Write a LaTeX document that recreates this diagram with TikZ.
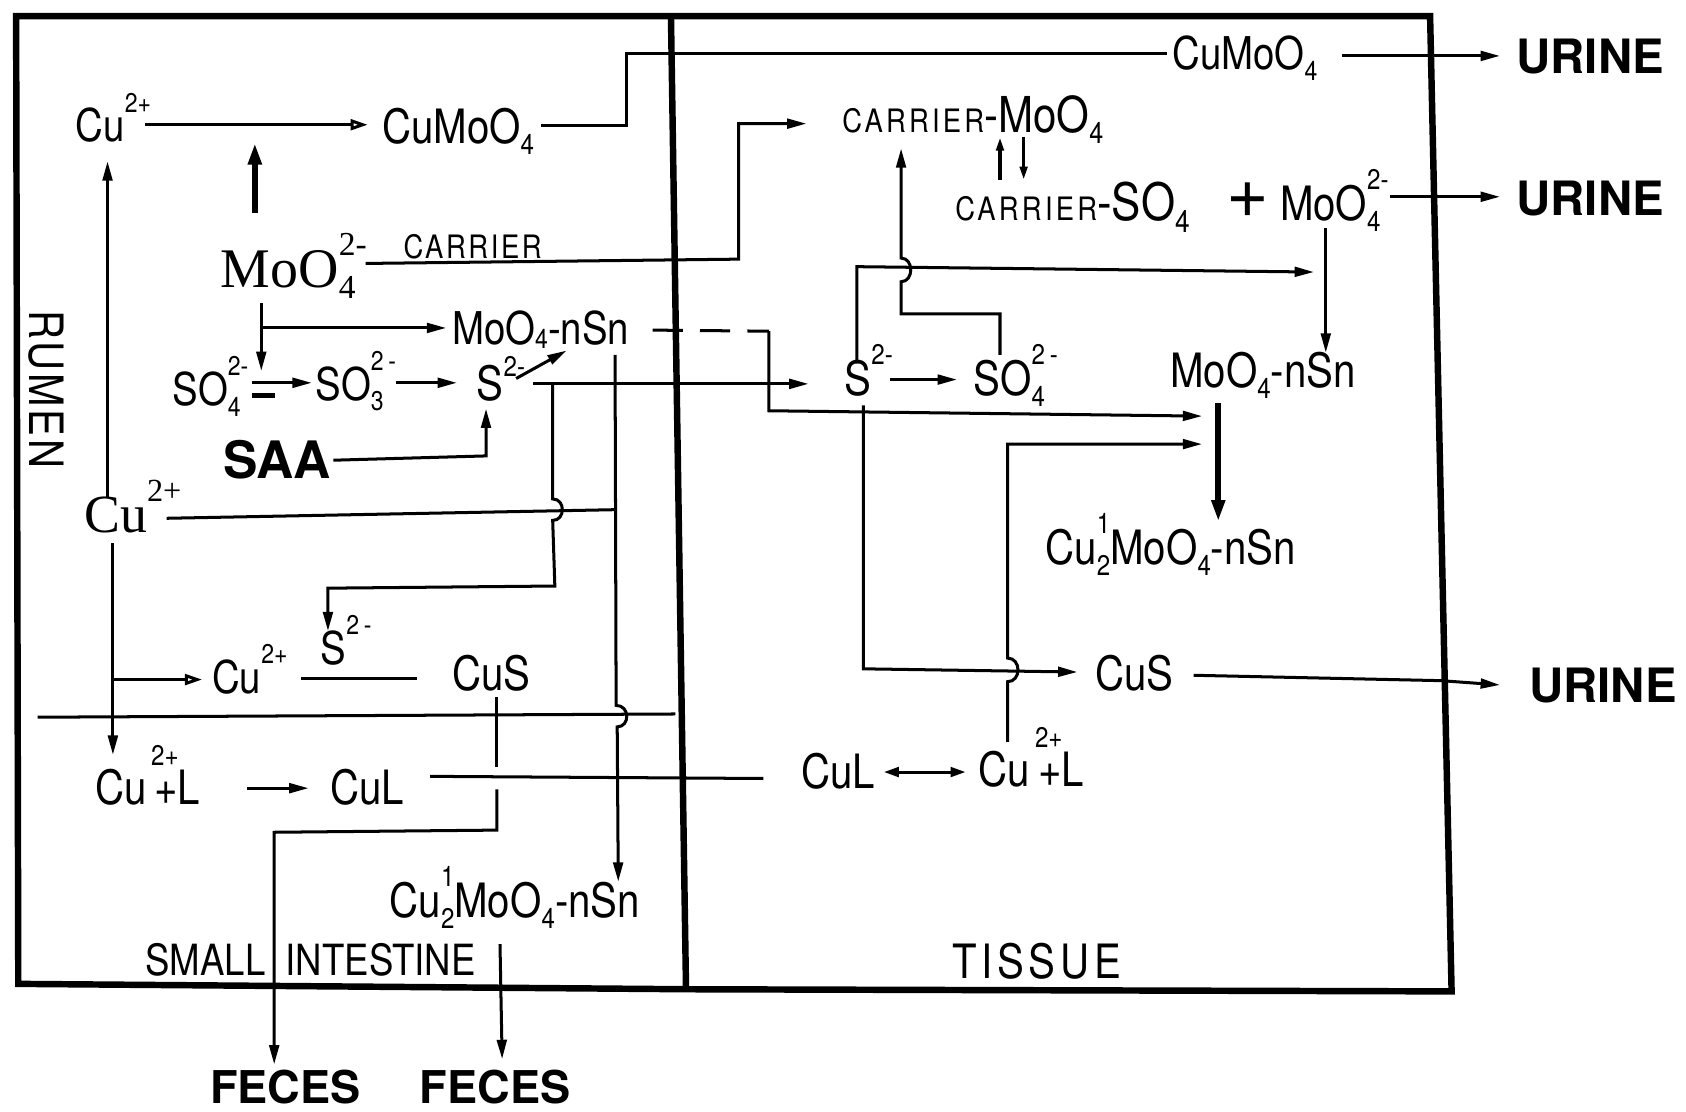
\documentclass[tikz,border=0pt]{standalone}
\usepackage{fontspec}
\usepackage{graphicx}
\setmainfont{TeX Gyre Heros}
\newfontfamily\cnd[FakeStretch=0.85]{TeX Gyre Heros}
\newfontfamily\srf{Liberation Serif}
\usetikzlibrary{arrows.meta}
\newcommand\sps[1]{\raisebox{1.25ex}{\scalebox{0.6}{#1}}}
\newcommand\lsps[1]{\raisebox{0.95ex}{\scalebox{0.6}{#1}}}
\newcommand\hsps[1]{\raisebox{1.55ex}{\scalebox{0.6}{#1}}}
\newcommand\sbs[1]{\raisebox{-0.45ex}{\scalebox{0.6}{#1}}}
\newcommand\ssbs[1]{\raisebox{-0.2ex}{\scalebox{0.6}{#1}}}
\newcommand\sbsp[2]{\rlap{\sbs{#1}}\sps{#2}}
\newcommand\smc[1]{{\fontsize{15}{15}\selectfont\addfontfeatures{LetterSpace=10}#1}}
\begin{document}
\begin{tikzpicture}[x=0.5pt,y=-0.5pt,
  tx/.style={anchor=base west,inner sep=0pt,font=\cnd\fontsize{#1}{#1}\selectfont},
  tb/.style={anchor=base west,inner sep=0pt,font=\bfseries\fontsize{#1}{#1}\selectfont},
  ts/.style={anchor=base west,inner sep=0pt,font=\srf\fontsize{#1}{#1}\selectfont},
  ln/.style={line width=1.4pt},
  ar/.style={ln,-{Triangle[length=9pt,width=4.5pt]}},
  oar/.style={ln,-{Triangle[open,length=8pt,width=5pt]}},
  har/.style={line width=2.6pt,-{Triangle[length=10pt,width=6pt]}},
  bordr/.style={line width=3pt},
]
\useasboundingbox (0,0) rectangle (1568,1034);
% frames
\draw[bordr] (15,15) -- (1330,15) -- (1350,922) -- (640,920) -- (17,915) -- cycle;
\draw[bordr] (624,15) -- (638,920);
\draw[ln] (35,667) -- (628,664);

% ---------- RUMEN nodes
\node[tx=21] (rCu1) at (70,132) {Cu\sps{2+}};
\node[tx=22] (rCuMoO4) at (355,133) {CuMoO\sbs{4}};
\node[ts=26] (rMoO4) at (205,267) {MoO\sbsp{4}{2-}};
\node[anchor=base west,inner sep=0pt,font=\cnd\fontsize{15}{15}\selectfont\addfontfeatures{LetterSpace=8}] (rCarrier) at (375,240) {CARRIER};
\node[tx=21] (rMoS) at (420,320) {MoO\ssbs{4}-nSn};
\node[tx=21] (rSO4) at (160,377) {SO\sbsp{4}{2-}};
\node[tx=21] (rSO3) at (293,372) {SO\sbsp{3}{2\,-}};
\node[tx=22] (rS) at (443,372) {S\lsps{2-}};
\node[tb=24] (rSAA) at (207,445) {SAA};
\node[ts=25] (rCu2) at (78,495) {Cu\sps{2+}};
\node[tx=21] (rS2) at (298,618) {S\sps{2\,-}};
\node[tx=21] (rCu3) at (197,645) {Cu\sps{2+}};
\node[tx=22] (rCuS) at (420,642) {CuS};
\node[tx=22] (rCuL2) at (88,748) {Cu\rlap{\hsps{\,2+}}\,+L};
\node[tx=22] (rCuL) at (307,748) {CuL};
\node[tx=22] (rCuHalf) at (362,853) {Cu\sbsp{2}{1}MoO\sbs{4}-nSn};
\node[tx=20] (rSI) at (135,907) {SMALL \ INTESTINE};
\node[tb=21] (rFec1) at (195,1026) {FECES};
\node[tb=21] (rFec2) at (390,1026) {FECES};
\node[inner sep=0pt,rotate=-90,font=\cnd\fontsize{22}{22}\selectfont\addfontfeatures{LetterSpace=6}] (rRumen) at (43,362) {RUMEN};

% ---------- TISSUE nodes
\node[tx=21] (tCuMoO4) at (1090,65) {CuMoO\sbs{4}};
\node[tb=22] (tUr1) at (1410,68) {URINE};
\node[tb=22] (tUr2) at (1410,200) {URINE};
\node[tb=22] (tUr3) at (1422,653) {URINE};
\node[tx=23] (tCarMo) at (783,123) {\smc{CARRIER}-MoO\sbs{4}};
\node[tx=24] (tCarSO) at (888,205) {\smc{CARRIER}-SO\sbs{4}};
\node[anchor=base west,inner sep=0pt,font=\fontsize{34}{34}\selectfont] (tPlus) at (1140,202) {+};
\node[tx=22] (tMoO4) at (1190,205) {MoO\sbsp{4}{2-}};
\node[tx=22] (tS) at (785,368) {S\sps{2-}};
\node[tx=22] (tSO4) at (905,368) {SO\sbsp{4}{2\,-}};
\node[tx=22] (tMoS) at (1088,360) {MoO\sbs{4}-nSn};
\node[tx=22] (tCuHalf) at (972,525) {Cu\sbsp{2}{1}MoO\sbs{4}-nSn};
\node[tx=22] (tCuS) at (1018,642) {CuS};
\node[tx=22] (tCuL) at (745,733) {CuL};
\node[tx=22] (tCuL2) at (910,731) {Cu\rlap{\hsps{\,2+}}\,+L};
\node[anchor=base west,inner sep=0pt,font=\cnd\fontsize{22}{22}\selectfont\addfontfeatures{LetterSpace=10}] (tTissue) at (885,910) {TISSUE};

% ---------- coordinates
\coordinate (c1a) at (135,116); \coordinate (c1b) at (342,116);
\coordinate (c2a) at (237,198); \coordinate (c2b) at (237,133);
\coordinate (c3a) at (503,117); \coordinate (c3b) at (1085,50);
\coordinate (c4a) at (1248,52); \coordinate (c4b) at (1395,52);
\coordinate (c5a) at (340,245); \coordinate (c5b) at (750,115);
\coordinate (c6a) at (243,282); \coordinate (c6b) at (243,345);
\coordinate (c6c) at (243,305); \coordinate (c6d) at (415,305);
\coordinate (c7a) at (234,356); \coordinate (c7b) at (290,356);
\coordinate (c7c) at (234,368); \coordinate (c7d) at (256,368);
\coordinate (c8a) at (368,356); \coordinate (c8b) at (425,356);
\coordinate (c9a) at (480,352); \coordinate (c9b) at (527,326);
\coordinate (c10a) at (310,428); \coordinate (c10b) at (452,380);
\coordinate (c11a) at (496,357); \coordinate (c11b) at (752,357);
\coordinate (c12a) at (514,357); \coordinate (c12b) at (305,587);
\coordinate (c13a) at (155,482); \coordinate (c13b) at (572,474);
\coordinate (c14a) at (572,330); \coordinate (c14b) at (575,820);
\coordinate (c15a) at (100,462); \coordinate (c15b) at (100,150);
\coordinate (c16a) at (105,505); \coordinate (c16b) at (105,702);
\coordinate (c17a) at (105,632); \coordinate (c17b) at (188,632);
\coordinate (c18a) at (280,631); \coordinate (c18b) at (388,631);
\coordinate (c19a) at (462,648); \coordinate (c19b) at (255,990);
\coordinate (c20a) at (230,733); \coordinate (c20b) at (287,733);
\coordinate (c21a) at (400,722); \coordinate (c21b) at (710,724);
\coordinate (c22a) at (465,878); \coordinate (c22b) at (467,985);
\coordinate (c24a) at (930,167); \coordinate (c24b) at (930,128);
\coordinate (c24c) at (952,127); \coordinate (c24d) at (952,167);
\coordinate (c25a) at (1293,183); \coordinate (c25b) at (1395,183);
\coordinate (c26a) at (1233,212); \coordinate (c26b) at (1233,328);
\coordinate (c27a) at (828,353); \coordinate (c27b) at (890,353);
\coordinate (c28a) at (797,338); \coordinate (c28b) at (1222,253);
\coordinate (c29a) at (930,330); \coordinate (c29b) at (838,138);
\coordinate (c30a) at (607,307); \coordinate (c30b) at (1118,387);
\coordinate (c31a) at (803,377); \coordinate (c31b) at (1002,625);
\coordinate (c32a) at (937,690); \coordinate (c32b) at (1118,413);
\coordinate (c33a) at (1133,375); \coordinate (c33b) at (1133,485);
\coordinate (c34a) at (822,718); \coordinate (c34b) at (898,718);
\coordinate (c35a) at (1110,628); \coordinate (c35b) at (1395,637);

% ---------- RUMEN connectors
\draw[oar] (c1a) -- (c1b);
\draw[har] (c2a) -- (c2b);
\draw[ln] (c3a) -- (583,117) -- (583,50) -- (c3b);
\draw[ar] (c4a) -- (c4b);
\draw[ar] (c5a) -- (687,241) -- (687,115) -- (c5b);
\draw[ar] (c6a) -- (c6b);
\draw[ar] (c6c) -- (c6d);
\draw[ar] (c7a) -- (c7b);
\draw[line width=2.4pt] (c7c) -- (c7d);
\draw[ar] (c8a) -- (c8b);
\draw[ar] (c9a) -- (c9b);
\draw[ar] (c10a) -- (452,424) -- (c10b);
\draw[ar] (c11a) -- (c11b);
\draw[ar] (c12a) -- (514,464) .. controls (526,464) and (526,484) .. (514,484) -- (516,545) -- (305,547) -- (c12b);
\draw[ln] (c13a) -- (c13b);
\draw[ar] (c14a) -- (573,656) .. controls (586,656) and (586,676) .. (574,676) -- (c14b);
\draw[ar] (c15a) -- (c15b);
\draw[ar] (c16a) -- (c16b);
\draw[oar] (c17a) -- (c17b);
\draw[ln] (c18a) -- (c18b);
\draw[ln] (c19a) -- (462,713);
\draw[ar] (462,734) -- (462,772) -- (255,774) -- (c19b);
\draw[ar] (c20a) -- (c20b);
\draw[ln] (c21a) -- (c21b);
\draw[ar] (c22a) -- (c22b);

% ---------- TISSUE connectors
\draw[ln,-{Triangle[length=6pt,width=3.5pt]}] (c24a) -- (c24b);
\draw[ln,-{Triangle[length=6pt,width=3.5pt]}] (c24c) -- (c24d);
\draw[ar] (c25a) -- (c25b);
\draw[ar] (c26a) -- (c26b);
\draw[ar] (c27a) -- (c27b);
\draw[ar] (c28a) -- (797,248) -- (c28b);
\draw[ar] (c29a) -- (930,292) -- (838,292) -- (838,262) .. controls (850,262) and (850,240) .. (838,240) -- (c29b);
\draw[ln,dash pattern=on 14pt off 8pt] (c30a) -- (715,308);
\draw[ar] (715,308) -- (715,382) -- (c30b);
\draw[ar] (c31a) -- (803,622) -- (c31b);
\draw[ar] (c32a) -- (937,634) .. controls (950,634) and (950,612) .. (937,612) -- (937,413) -- (c32b);
\draw[har] (c33a) -- (c33b);
\draw[ln,{Triangle[length=7pt,width=4.5pt]}-{Triangle[length=7pt,width=4.5pt]}] (c34a) -- (c34b);
\draw[ar] (c35a) -- (1340,633) -- (c35b);
\end{tikzpicture}
\end{document}
